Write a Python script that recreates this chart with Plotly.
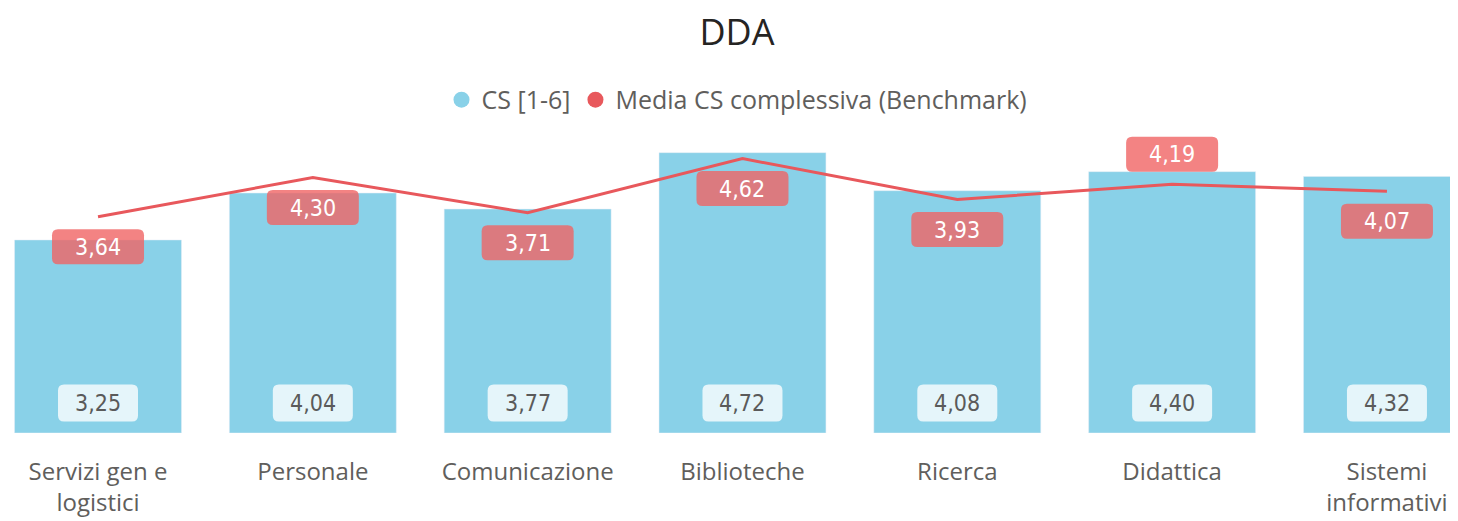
import plotly.graph_objects as go

categories = ["Servizi gen e<br>logistici", "Personale", "Comunicazione", "Biblioteche",
              "Ricerca", "Didattica", "Sistemi<br>informativi"]
cs_values = [3.25, 4.04, 3.77, 4.72, 4.08, 4.40, 4.32]
benchmark_values = [3.64, 4.30, 3.71, 4.62, 3.93, 4.19, 4.07]
bench_label_above = [False, False, False, False, False, True, False]

BAR_COLOR = "#89D1E8"
LINE_COLOR = "#E8585C"
TEXT_GRAY = "#605E5C"
LABEL_FONT = "DejaVu Sans Condensed, Roboto, sans-serif"


def fmt(v):
    return f"{v:.2f}".replace(".", ",")


def rounded_box(w, h, dy, r=6):
    x0, x1 = -w / 2, w / 2
    y0, y1 = dy - h / 2, dy + h / 2
    return (f"M {x0 + r},{y0} L {x1 - r},{y0} Q {x1},{y0} {x1},{y0 + r} "
            f"L {x1},{y1 - r} Q {x1},{y1} {x1 - r},{y1} L {x0 + r},{y1} "
            f"Q {x0},{y1} {x0},{y1 - r} L {x0},{y0 + r} Q {x0},{y0} {x0 + r},{y0} Z")


fig = go.Figure()
fig.add_trace(go.Bar(x=categories, y=cs_values, marker_color=BAR_COLOR, width=0.777,
                     showlegend=False, hoverinfo="skip"))
fig.add_trace(go.Scatter(x=categories, y=benchmark_values, mode="lines",
                         line=dict(color=LINE_COLOR, width=3), showlegend=False, hoverinfo="skip"))
# legend entries with circle symbols
fig.add_trace(go.Scatter(x=[None], y=[None], mode="markers", name="CS [1-6]",
                         marker=dict(symbol="circle", size=17, color=BAR_COLOR)))
fig.add_trace(go.Scatter(x=[None], y=[None], mode="markers", name="Media CS complessiva (Benchmark)",
                         marker=dict(symbol="circle", size=17, color=LINE_COLOR)))

shapes = []
annotations = []
for i, (c, v) in enumerate(zip(categories, cs_values)):
    shapes.append(dict(type="path", xref="x", yref="y", xsizemode="pixel", ysizemode="pixel",
                       xanchor=i, yanchor=0, path=rounded_box(80, 37, 30),
                       fillcolor="rgba(255,255,255,0.78)", line=dict(width=0), layer="above"))
    annotations.append(dict(x=c, y=0, yshift=30, text=fmt(v), showarrow=False,
                            font=dict(family=LABEL_FONT, size=23, color="#5A5A5A")))
for i, (c, v, above) in enumerate(zip(categories, benchmark_values, bench_label_above)):
    dy = 30 if above else -30
    shapes.append(dict(type="path", xref="x", yref="y", xsizemode="pixel", ysizemode="pixel",
                       xanchor=i, yanchor=v, path=rounded_box(92, 35, dy),
                       fillcolor="rgba(240,100,100,0.8)", line=dict(width=0), layer="above"))
    annotations.append(dict(x=c, y=v, yshift=dy, text=fmt(v), showarrow=False,
                            font=dict(family=LABEL_FONT, size=23, color="white")))

# page body has an 8px default margin; positions below compensate for it
fig.update_layout(
    width=1458, height=521,
    margin=dict(l=0, r=0, t=112, b=96),
    paper_bgcolor="white", plot_bgcolor="white",
    title=dict(text="DDA", x=0.5, xanchor="center", y=1 - 24 / 521, yanchor="middle",
               yref="container", font=dict(family="Open Sans", size=36, color="#252423")),
    legend=dict(orientation="h", x=0.5, xanchor="center", y=1.064, yanchor="middle",
                font=dict(family="Open Sans", size=25, color=TEXT_GRAY),
                itemwidth=30, tracegroupgap=0),
    xaxis=dict(range=[-0.419, 6.368], showgrid=False, zeroline=False, showline=False,
               ticks="", ticklabelstandoff=22,
               tickfont=dict(family="Open Sans", size=24, color=TEXT_GRAY)),
    yaxis=dict(range=[0, 5.27], visible=False, showgrid=False, zeroline=False),
    shapes=shapes,
    annotations=annotations,
    separators=",.",
)

fig.write_html("out.html")
